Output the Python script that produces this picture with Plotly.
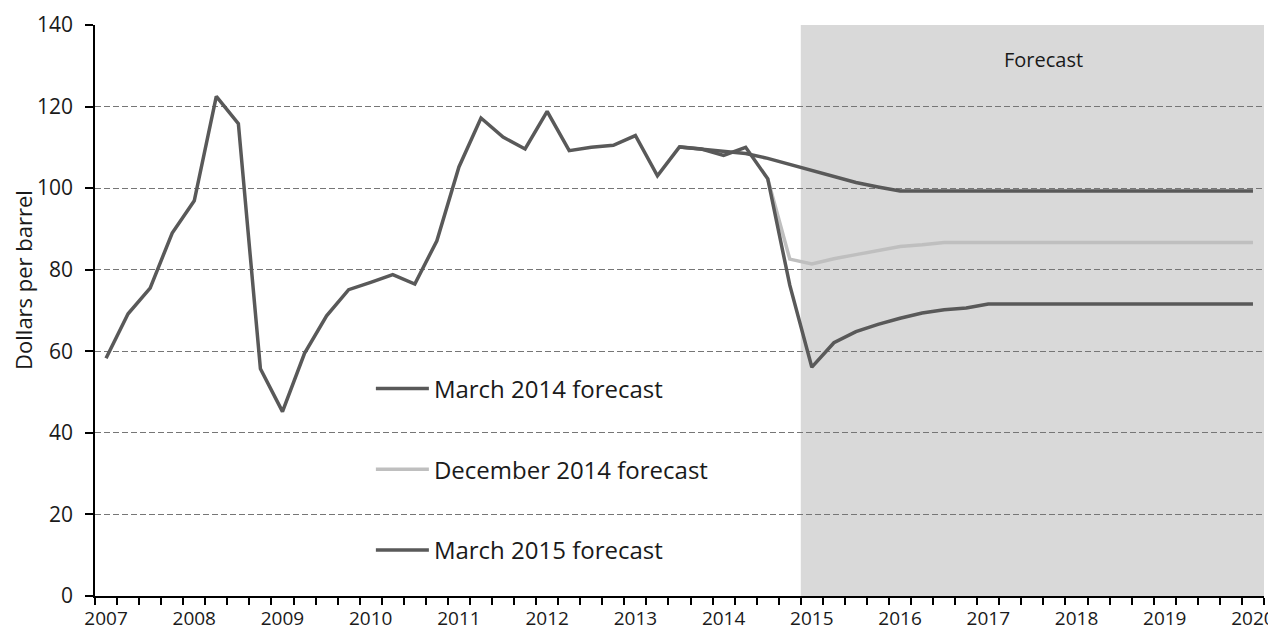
import plotly.graph_objects as go

# quarterly categories 2007 Q1 .. 2020 Q1
quarters = [
    "2007 Q1", "2007 Q2", "2007 Q3", "2007 Q4", "2008 Q1", "2008 Q2", "2008 Q3", "2008 Q4",
    "2009 Q1", "2009 Q2", "2009 Q3", "2009 Q4", "2010 Q1", "2010 Q2", "2010 Q3", "2010 Q4",
    "2011 Q1", "2011 Q2", "2011 Q3", "2011 Q4", "2012 Q1", "2012 Q2", "2012 Q3", "2012 Q4",
    "2013 Q1", "2013 Q2", "2013 Q3", "2013 Q4", "2014 Q1", "2014 Q2", "2014 Q3", "2014 Q4",
    "2015 Q1", "2015 Q2", "2015 Q3", "2015 Q4", "2016 Q1", "2016 Q2", "2016 Q3", "2016 Q4",
    "2017 Q1", "2017 Q2", "2017 Q3", "2017 Q4", "2018 Q1", "2018 Q2", "2018 Q3", "2018 Q4",
    "2019 Q1", "2019 Q2", "2019 Q3", "2019 Q4", "2020 Q1",
]

# March 2015 forecast (includes outturn history from 2007)
march_2015 = [
    58.3, 69.2, 75.5, 89.0, 96.9, 122.5, 115.8, 55.7, 45.2, 59.5,
    68.7, 75.1, 76.9, 78.8, 76.5, 87.1, 105.2, 117.2, 112.5, 109.6,
    118.8, 109.2, 110.0, 110.5, 112.9, 103.0, 110.1, 109.6, 108.0, 110.0,
    102.3, 76.2, 56.1, 62.1, 64.8, 66.6, 68.1, 69.4, 70.2, 70.6,
    71.6, 71.6, 71.6, 71.6, 71.6, 71.6, 71.6, 71.6, 71.6, 71.6,
    71.6, 71.6, 71.6,
]
# March 2014 forecast, from 2013 Q3
march_2014_start = "2013 Q3"
march_2014 = [
    110.1, 109.6, 109.0, 108.5, 107.3, 105.8, 104.3, 102.9, 101.4, 100.3,
    99.3, 99.3, 99.3, 99.3, 99.3, 99.3, 99.3, 99.3, 99.3, 99.3,
    99.3, 99.3, 99.3, 99.3, 99.3, 99.3, 99.3,
]
# December 2014 forecast, from 2014 Q3
dec_2014_start = "2014 Q3"
dec_2014 = [
    102.3, 82.6, 81.4, 82.7, 83.7, 84.6, 85.7, 86.1, 86.7, 86.7,
    86.7, 86.7, 86.7, 86.7, 86.7, 86.7, 86.7, 86.7, 86.7, 86.7,
    86.7, 86.7, 86.7,
]
forecast_start = "2015 Q1"

dark = "#595959"
light = "#bfbfbf"
font = "Open Sans"

i14 = quarters.index(march_2014_start)
i_dec = quarters.index(dec_2014_start)
i_fc = quarters.index(forecast_start)

fig = go.Figure()
fig.add_trace(go.Scatter(
    x=quarters[i14:i14 + len(march_2014)], y=march_2014,
    mode="lines", name="March 2014 forecast", legendgroup="a",
    line=dict(color=dark, width=3.5)
))
fig.add_trace(go.Scatter(
    x=quarters[i_dec:i_dec + len(dec_2014)], y=dec_2014,
    mode="lines", name="December 2014 forecast", legendgroup="b",
    line=dict(color=light, width=3.5)
))
fig.add_trace(go.Scatter(
    x=quarters, y=march_2015,
    mode="lines", name="March 2015 forecast", legendgroup="c",
    line=dict(color=dark, width=3.5)
))

# forecast shading
fig.add_shape(
    type="rect", xref="x", yref="paper",
    x0=i_fc - 0.5, x1=len(quarters) - 0.5, y0=0, y1=1,
    fillcolor="rgba(180,180,180,0.5)", line_width=0, layer="between"
)
fig.add_annotation(
    text="Forecast", xref="x", yref="paper",
    x=(i_fc + len(quarters)) / 2, y=0.94, yanchor="middle",
    showarrow=False, font=dict(family=font, size=20, color="#1a1a1a")
)
# y axis title, sits a little above the middle like the original
fig.add_annotation(
    text="Dollars per barrel", xref="paper", yref="paper",
    x=-0.061, y=0.553, xanchor="center", yanchor="middle", textangle=-90,
    showarrow=False, font=dict(family=font, size=22, color="#1a1a1a")
)

ticktext = [q[:4] if q.endswith("Q1") else "" for q in quarters]

# page body adds an 8px offset, so the figure is 8px smaller than the window
fig.update_layout(
    width=1268, height=624,
    margin=dict(l=87, r=12, t=17, b=36),
    paper_bgcolor="white", plot_bgcolor="white",
    font=dict(family=font, size=20, color="#1a1a1a"),
    showlegend=True,
    legend=dict(
        x=0.236, y=0.402, xanchor="left", yanchor="top",
        bgcolor="rgba(0,0,0,0)", font=dict(size=24),
        traceorder="grouped", tracegroupgap=46.5, itemwidth=53
    ),
    xaxis=dict(
        type="category", categoryorder="array", categoryarray=quarters,
        range=[-0.5, len(quarters) - 0.5], automargin=False,
        tickmode="array", tickvals=quarters, ticktext=ticktext,
        tickson="boundaries", ticks="outside", ticklen=7, tickcolor="black", tickwidth=1.5,
        ticklabelstandoff=4,
        showline=True, linecolor="black", linewidth=1.5,
        showgrid=False, zeroline=False, tickangle=0,
        tickfont=dict(size=19)
    ),
    yaxis=dict(
        range=[0, 140], dtick=20, tick0=0, automargin=False,
        ticks="outside", ticklen=8, tickcolor="black", tickwidth=1.5,
        ticklabelstandoff=8,
        showline=True, linecolor="black", linewidth=1.5,
        showgrid=True, gridcolor="#767676", gridwidth=1.2, griddash="6px,3px",
        zeroline=False,
        tickfont=dict(size=21)
    ),
)

fig.write_html("out.html")
